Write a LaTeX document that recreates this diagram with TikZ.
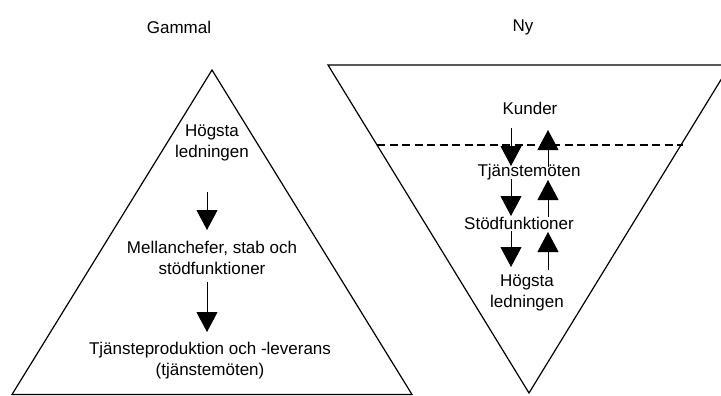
\documentclass[tikz,border=0pt]{standalone}
\usepackage{fontspec}
\setmainfont{Liberation Sans}
\usetikzlibrary{arrows.meta}

\begin{document}
\begin{tikzpicture}[x=1pt,y=-1pt,
  txt/.style={align=center,inner sep=0pt,font=\fontsize{17}{21}\selectfont},
  flow/.style={line width=1pt,-{Triangle[width=21pt,length=20pt]}},
  edge/.style={line width=1.2pt}]
\useasboundingbox (0,0) rectangle (721,396);

% rubriker
\node[txt] (gammal) at (179,27) {Gammal};
\node[txt] (ny) at (523,27) {Ny};

% gammal pyramid
\draw[edge] (212,70) -- (412,394.5) -- (12,394.5) -- cycle;

\node[txt] (hl) at (212,143) {Högsta\\ledningen};
\node[txt] (mc) at (212,258) {Mellanchefer, stab och\\stödfunktioner};
\node[txt] (tp) at (210,361) {Tjänsteproduktion och -leverans\\(tjänstemöten)};

\coordinate (l1s) at (207,192);
\coordinate (l1e) at (207,230);
\coordinate (l2s) at (207,282);
\coordinate (l2e) at (207,332);
\draw[flow] (l1s) -- (l1e);
\draw[flow] (l2s) -- (l2e);

% ny pyramid
\draw[edge] (328,65) -- (730,65) -- (529,393) -- cycle;
\draw[line width=2pt,dash pattern=on 8pt off 4.5pt] (377,144.5) -- (683,144.5);

\node[txt] (ku) at (530,108) {Kunder};
\node[txt] (tm) at (529,172) {Tjänstemöten};
\node[txt] (sf) at (519,223) {Stödfunktioner};
\node[txt] (hl2) at (527,293) {Högsta\\ledningen};

\coordinate (d1s) at (511,128);
\coordinate (d1e) at (511,166);
\coordinate (d2s) at (511,179);
\coordinate (d2e) at (511,216);
\coordinate (d3s) at (511,231);
\coordinate (d3e) at (511,267);
\draw[flow] (d1s) -- (d1e);
\draw[flow] (d2s) -- (d2e);
\draw[flow] (d3s) -- (d3e);

\coordinate (u1s) at (548,167);
\coordinate (u1e) at (548,130);
\coordinate (u2s) at (548,217);
\coordinate (u2e) at (548,180);
\coordinate (u3s) at (548,270);
\coordinate (u3e) at (548,232);
\draw[flow] (u1s) -- (u1e);
\draw[flow] (u2s) -- (u2e);
\draw[flow] (u3s) -- (u3e);
\end{tikzpicture}
\end{document}
